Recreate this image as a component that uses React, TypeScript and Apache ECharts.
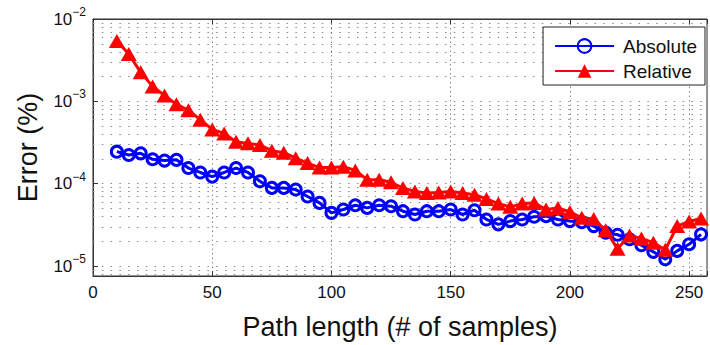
import React, { useEffect, useRef } from "react";
import * as echarts from "echarts";

const xValues = [
  10, 15, 20, 25, 30, 35, 40, 45, 50, 55, 60, 65, 70, 75, 80, 85, 90, 95, 100, 105,
  110, 115, 120, 125, 130, 135, 140, 145, 150, 155, 160, 165, 170, 175, 180, 185, 190, 195, 200, 205,
  210, 215, 220, 225, 230, 235, 240, 245, 250, 255,
];

const absoluteErr = [
  2.45e-4, 2.23e-4, 2.34e-4, 1.98e-4, 1.91e-4, 1.95e-4, 1.55e-4, 1.37e-4, 1.22e-4, 1.37e-4,
  1.55e-4, 1.37e-4, 1.07e-4, 8.9e-5, 8.9e-5, 8.5e-5, 7.0e-5, 5.85e-5, 4.43e-5, 4.86e-5,
  5.48e-5, 5.09e-5, 5.48e-5, 5.33e-5, 4.64e-5, 4.23e-5, 4.64e-5, 4.64e-5, 4.86e-5, 4.23e-5,
  4.77e-5, 3.68e-5, 3.21e-5, 3.52e-5, 3.68e-5, 3.97e-5, 4.04e-5, 3.68e-5, 3.52e-5, 3.42e-5,
  3.06e-5, 2.55e-5, 2.4e-5, 2.12e-5, 1.79e-5, 1.49e-5, 1.21e-5, 1.53e-5, 1.84e-5, 2.43e-5,
];

const relativeErr = [
  5.4e-3, 3.76e-3, 2.25e-3, 1.52e-3, 1.18e-3, 9.2e-4, 7.8e-4, 6.0e-4, 4.56e-4, 4.08e-4,
  3.24e-4, 3.09e-4, 2.95e-4, 2.52e-4, 2.38e-4, 2.04e-4, 1.78e-4, 1.57e-4, 1.57e-4, 1.61e-4,
  1.45e-4, 1.12e-4, 1.12e-4, 1.04e-4, 8.87e-5, 8.07e-5, 7.72e-5, 7.85e-5, 8.07e-5, 7.72e-5,
  7.36e-5, 6.54e-5, 5.74e-5, 5.24e-5, 5.74e-5, 5.85e-5, 4.86e-5, 5.07e-5, 4.54e-5, 3.86e-5,
  3.72e-5, 2.72e-5, 1.62e-5, 2.36e-5, 2.17e-5, 1.92e-5, 1.58e-5, 3.06e-5, 3.48e-5, 3.79e-5,
];

const minorGridY = [
  8e-6, 9e-6,
  2e-5, 3e-5, 4e-5, 5e-5, 6e-5, 7e-5, 8e-5, 9e-5,
  2e-4, 3e-4, 4e-4, 5e-4, 6e-4, 7e-4, 8e-4, 9e-4,
  2e-3, 3e-3, 4e-3, 5e-3, 6e-3, 7e-3, 8e-3, 9e-3,
];

const xTickStep = 50;
const xMax = 257.5;
const yMin = 7.58e-6;
const yMax = 1e-2;

const FONT = "'Liberation Sans', Arial, Helvetica, sans-serif";

export default function App() {
  const ref = useRef<HTMLDivElement>(null);

  useEffect(() => {
    if (!ref.current) return;
    const chart = echarts.init(ref.current, null, { renderer: "svg" });
    const dotted = { color: "#8a8a8a", width: 1, type: [1.5, 7.3] as number[] };

    chart.setOption({
      animation: false,
      backgroundColor: "#ffffff",
      textStyle: { fontFamily: FONT },
      grid: {
        left: 93,
        right: 1,
        top: 19,
        bottom: 68,
        show: true,
        borderColor: "#333",
        borderWidth: 1,
        backgroundColor: "transparent",
      },
      legend: {
        data: ["Absolute", "Relative"],
        orient: "vertical",
        right: 5,
        top: 27,
        backgroundColor: "#ffffff",
        borderColor: "#222",
        borderWidth: 1,
        borderRadius: 0,
        padding: [9, 8, 4, 11],
        itemGap: 5,
        itemWidth: 59,
        itemHeight: 17,
        textStyle: {
          fontFamily: FONT,
          fontSize: 19,
          color: "#111",
          lineHeight: 20,
          padding: [0, 0, 0, 4],
        },
      },
      xAxis: [
        {
          type: "value",
          min: 0,
          max: xMax,
          interval: xTickStep,
          name: "Path length (# of samples)",
          nameLocation: "middle",
          nameGap: 37,
          nameTextStyle: { fontFamily: FONT, fontSize: 27, color: "#111" },
          axisLine: { show: true, lineStyle: { color: "#333", width: 1 } },
          axisTick: { show: true, inside: true, length: 5, lineStyle: { color: "#333" } },
          axisLabel: {
            fontFamily: FONT,
            fontSize: 17,
            color: "#111",
            margin: 8,
            formatter: (v: number) => (v % xTickStep === 0 ? String(v) : ""),
          },
          splitLine: {
            show: true,
            lineStyle: { color: "#8a8a8a", width: 1, type: [1.5, 3] },
          },
        },
        {
          type: "value",
          position: "top",
          min: 0,
          max: xMax,
          interval: xTickStep,
          axisLine: { show: true, lineStyle: { color: "#333", width: 1 } },
          axisTick: { show: true, inside: true, length: 5, lineStyle: { color: "#333" } },
          axisLabel: { show: false },
          splitLine: { show: false },
        },
      ],
      yAxis: {
        type: "log",
        logBase: 10,
        min: yMin,
        max: yMax,
        name: "Error (%)",
        nameLocation: "middle",
        nameGap: 52,
        nameTextStyle: { fontFamily: FONT, fontSize: 27, color: "#111" },
        axisLine: { show: true, lineStyle: { color: "#333", width: 1 } },
        axisTick: { show: true, inside: true, length: 5, lineStyle: { color: "#333" } },
        axisLabel: {
          margin: 7,
          color: "#111",
          formatter: (v: number) => {
            const e = Math.log10(v);
            const r = Math.round(e);
            if (Math.abs(e - r) > 1e-6) return "";
            return "{b|10}{s|" + (r < 0 ? "\u2212" + Math.abs(r) : String(r)) + "}";
          },
          rich: {
            b: { fontFamily: FONT, fontSize: 17, color: "#111" },
            s: { fontFamily: FONT, fontSize: 12, color: "#111", padding: [0, 0, 14, 0] },
          },
        },
        splitLine: { show: true, lineStyle: dotted },
      },
      series: [
        {
          name: "Absolute",
          type: "line",
          data: xValues.map((x, i) => [x, absoluteErr[i]]),
          symbol: "circle",
          symbolSize: 11,
          showAllSymbol: true,
          lineStyle: { color: "#0000ff", width: 3 },
          itemStyle: { color: "rgba(0,0,0,0)", borderColor: "#0000ff", borderWidth: 3 },
          z: 3,
          markLine: {
            silent: true,
            z: 1,
            precision: 12,
            symbol: ["none", "none"],
            label: { show: false },
            emphasis: { disabled: true },
            lineStyle: dotted,
            data: minorGridY.map((v) => ({ yAxis: v })),
          },
        },
        {
          name: "Relative",
          type: "line",
          data: xValues.map((x, i) => [x, relativeErr[i]]),
          symbol: "triangle",
          symbolSize: [16, 14],
          showAllSymbol: true,
          lineStyle: { color: "#ff0000", width: 3 },
          itemStyle: { color: "#ff0000" },
          z: 4,
        },
      ],
    });

    return () => chart.dispose();
  }, []);

  return (
    <div
      ref={ref}
      style={{ position: "absolute", left: 0, top: 0, width: 710, height: 345 }}
    />
  );
}
